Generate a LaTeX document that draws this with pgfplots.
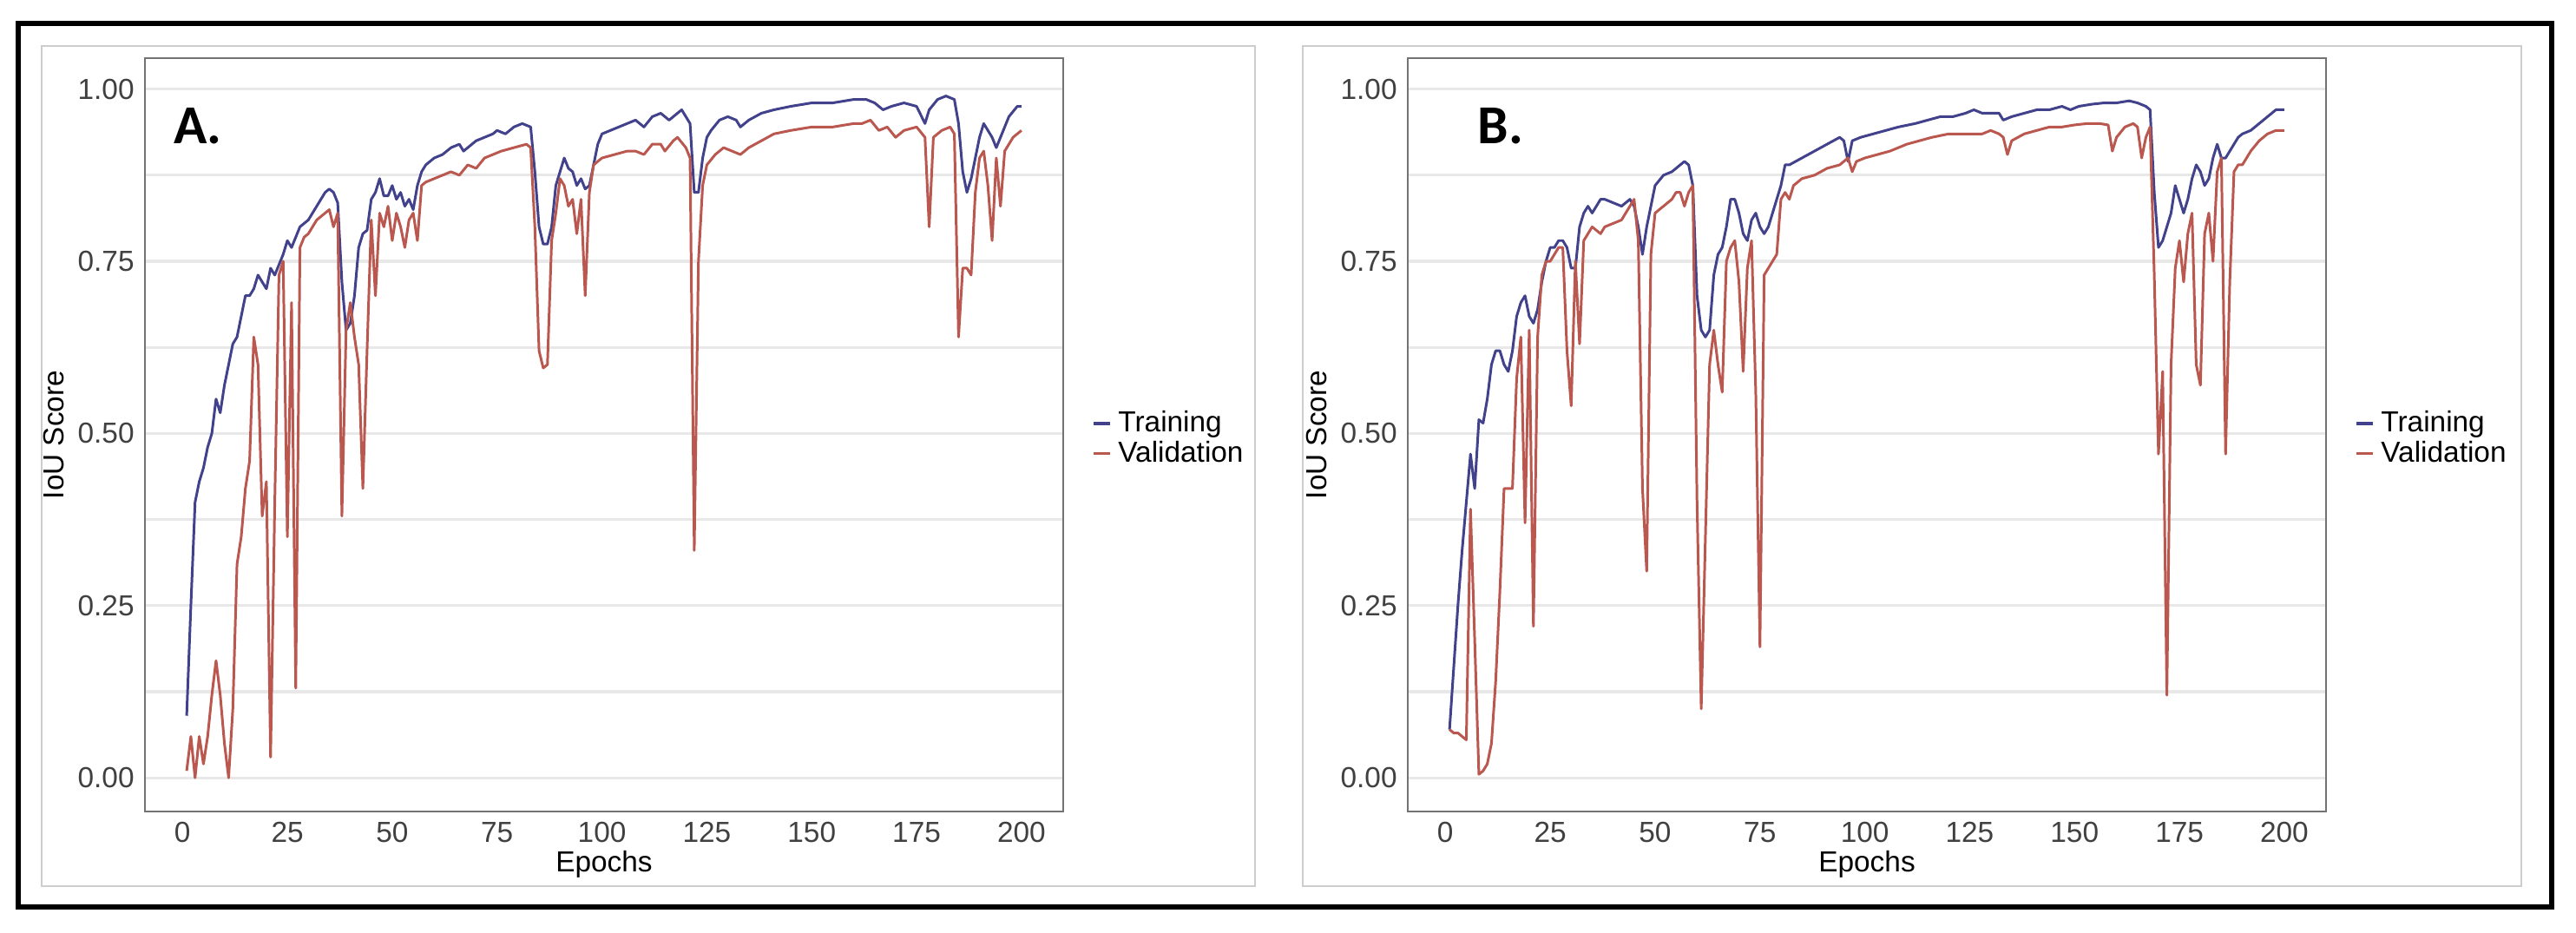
\documentclass[border=0pt]{standalone}
\usepackage{fontspec}
\setmainfont{Liberation Sans}
\newfontfamily\carlito{Carlito}
\usepackage{pgfplots}
\pgfplotsset{compat=1.18}
\definecolor{trainc}{RGB}{66,66,140}
\definecolor{valc}{RGB}{186,88,80}
\definecolor{gridc}{RGB}{232,232,232}
\definecolor{panelc}{RGB}{115,115,115}
\definecolor{framec}{RGB}{205,205,205}

\pgfplotsset{
  iouplot/.style={
    scale only axis, width=10.58cm, height=8.68cm,
    xmin=-8.95, xmax=209.95, ymin=-0.049, ymax=1.045,
    xtick={0,25,...,200}, ytick={0,0.25,0.5,0.75,1},
    minor ytick={0.125,0.375,0.625,0.875},
    ymajorgrids, yminorgrids,
    major grid style={gridc, line width=0.9pt},
    minor grid style={gridc, line width=0.9pt},
    major tick length=0pt, minor tick length=0pt,
    axis line style={panelc, line width=0.7pt},
    yticklabel style={/pgf/number format/fixed, /pgf/number format/fixed zerofill,
      /pgf/number format/precision=2},
    /pgf/number format/assume math mode=true,
    tick label style={font=\fontsize{9.5}{11}\selectfont, text=black!75},
    xlabel={Epochs}, ylabel={IoU Score},
    label style={font=\fontsize{9.5}{11}\selectfont},
    xlabel shift=-0.15cm, ylabel shift=-0.08cm,
    legend style={at={(1.031,0.495)}, anchor=west, draw=none, fill=none,
      font=\fontsize{9.5}{11}\selectfont, row sep=0pt, inner sep=0pt,
      nodes={text height=0.76em, text depth=0.22em, inner ysep=0pt},
      cells={anchor=west}},
    legend image code/.code={\draw[##1, line width=1.1pt] (0cm,0cm) -- (0.19cm,0cm);},
    every axis plot/.append style={line width=0.85pt, line join=round},
  }
}

\begin{document}
\begin{tikzpicture}
\useasboundingbox (0,0) rectangle (29.68cm,10.74cm);
\fill[white] (0,0) rectangle (29.68cm,10.74cm);
% outer frames
\draw[framec, line width=0.6pt] (0.48cm,0.53cm) rectangle (14.46cm,10.21cm);
\draw[framec, line width=0.6pt] (15.01cm,0.53cm) rectangle (29.05cm,10.21cm);
\draw[black, line width=1.7pt] (0.21cm,0.29cm) rectangle (29.40cm,10.47cm);

% panel A
\begin{axis}[iouplot, at={(1.67cm,1.39cm)}, anchor=south west]
\addplot[trainc] coordinates {
(1,0.09) (2,0.25) (3,0.40) (4,0.43) (5,0.45) (6,0.48) (7,0.50) (8,0.55) (9,0.53) (10,0.57)
(11,0.60) (12,0.63) (13,0.64) (14,0.67) (15,0.70) (16,0.70) (17,0.71) (18,0.73) (19,0.72) (20,0.71)
(21,0.74) (22,0.73) (23,0.745) (24,0.76) (25,0.78) (26,0.77) (27,0.785) (28,0.80) (29,0.805) (30,0.81)
(31,0.82) (32,0.83) (33,0.84) (34,0.85) (35,0.855) (36,0.85) (37,0.835) (38,0.72) (39,0.65) (40,0.66)
(41,0.70) (42,0.77) (43,0.79) (44,0.795) (45,0.84) (46,0.85) (47,0.87) (48,0.845) (49,0.845) (50,0.86)
(51,0.84) (52,0.85) (53,0.83) (54,0.84) (55,0.825) (56,0.86) (57,0.88) (58,0.89) (59,0.895) (60,0.90)
(62,0.905) (64,0.915) (66,0.92) (67,0.91) (68,0.915) (70,0.925) (72,0.93) (74,0.935) (75,0.94) (77,0.935)
(79,0.945) (81,0.95) (83,0.945) (84,0.88) (85,0.80) (86,0.775) (87,0.775) (88,0.80) (89,0.86) (90,0.88)
(91,0.90) (92,0.885) (93,0.88) (94,0.86) (95,0.87) (96,0.855) (97,0.86) (98,0.89) (99,0.92) (100,0.935)
(102,0.94) (104,0.945) (106,0.95) (108,0.955) (110,0.945) (112,0.96) (114,0.965) (116,0.955) (118,0.965) (119,0.97)
(120,0.96) (121,0.95) (122,0.85) (123,0.85) (124,0.90) (125,0.93) (126,0.94) (128,0.955) (130,0.96) (132,0.955)
(133,0.945) (135,0.955) (138,0.965) (141,0.97) (145,0.975) (150,0.98) (155,0.98) (160,0.985) (163,0.985) (165,0.98)
(167,0.97) (169,0.975) (172,0.98) (175,0.975) (177,0.95) (178,0.97) (180,0.985) (182,0.99) (184,0.985) (185,0.95)
(186,0.88) (187,0.85) (188,0.87) (190,0.93) (191,0.95) (192,0.94) (193,0.93) (194,0.915) (195,0.93) (197,0.96)
(199,0.975) (200,0.975)
};
\addlegendentry{Training}
\addplot[valc] coordinates {
(1,0.01) (2,0.06) (3,0.00) (4,0.06) (5,0.02) (6,0.06) (7,0.12) (8,0.17) (9,0.12) (10,0.05)
(11,0.00) (12,0.10) (13,0.31) (14,0.35) (15,0.42) (16,0.46) (17,0.64) (18,0.60) (19,0.38) (20,0.43)
(21,0.03) (22,0.40) (23,0.73) (24,0.75) (25,0.35) (26,0.69) (27,0.13) (28,0.77) (29,0.785) (30,0.79)
(31,0.80) (32,0.81) (33,0.815) (34,0.82) (35,0.825) (36,0.80) (37,0.82) (38,0.38) (39,0.65) (40,0.69)
(41,0.64) (42,0.60) (43,0.42) (44,0.62) (45,0.81) (46,0.70) (47,0.82) (48,0.80) (49,0.83) (50,0.78)
(51,0.82) (52,0.80) (53,0.77) (54,0.81) (55,0.82) (56,0.78) (57,0.86) (58,0.865) (60,0.87) (62,0.875)
(64,0.88) (66,0.875) (68,0.89) (70,0.885) (72,0.90) (74,0.905) (76,0.91) (79,0.915) (82,0.92) (83,0.915)
(84,0.80) (85,0.62) (86,0.595) (87,0.60) (88,0.78) (89,0.82) (90,0.87) (91,0.86) (92,0.83) (93,0.84)
(94,0.79) (95,0.84) (96,0.70) (97,0.85) (98,0.89) (100,0.90) (103,0.905) (106,0.91) (108,0.91) (110,0.905)
(112,0.92) (114,0.92) (115,0.91) (117,0.925) (118,0.93) (120,0.915) (121,0.90) (122,0.33) (123,0.75) (124,0.86)
(125,0.89) (127,0.905) (129,0.915) (131,0.91) (133,0.905) (135,0.915) (138,0.925) (141,0.935) (145,0.94) (150,0.945)
(155,0.945) (160,0.95) (162,0.95) (164,0.955) (166,0.94) (168,0.945) (170,0.93) (172,0.94) (175,0.945) (177,0.93)
(178,0.80) (179,0.93) (181,0.94) (183,0.945) (184,0.935) (185,0.64) (186,0.74) (187,0.74) (188,0.73) (189,0.85)
(190,0.90) (191,0.91) (192,0.86) (193,0.78) (194,0.90) (195,0.83) (196,0.91) (198,0.93) (200,0.94)
};
\addlegendentry{Validation}
\end{axis}
\node[font=\carlito\bfseries\fontsize{18}{20}\selectfont] at (2.28cm,9.29cm) {A.};

% panel B
\begin{axis}[iouplot, at={(16.22cm,1.39cm)}, anchor=south west]
\addplot[trainc] coordinates {
(1,0.07) (2,0.16) (3,0.25) (4,0.33) (5,0.40) (6,0.47) (7,0.42) (8,0.52) (9,0.515) (10,0.55)
(11,0.60) (12,0.62) (13,0.62) (14,0.60) (15,0.59) (16,0.62) (17,0.67) (18,0.69) (19,0.70) (20,0.67)
(21,0.66) (22,0.68) (23,0.72) (24,0.75) (25,0.77) (26,0.77) (27,0.78) (28,0.78) (29,0.77) (30,0.74)
(31,0.74) (32,0.80) (33,0.82) (34,0.83) (35,0.82) (36,0.83) (37,0.84) (38,0.84) (40,0.835) (42,0.83)
(44,0.84) (45,0.83) (46,0.80) (47,0.76) (48,0.80) (49,0.83) (50,0.86) (52,0.875) (54,0.88) (56,0.89)
(57,0.895) (58,0.89) (59,0.86) (60,0.70) (61,0.65) (62,0.64) (63,0.65) (64,0.73) (65,0.76) (66,0.77)
(67,0.80) (68,0.84) (69,0.84) (70,0.82) (71,0.79) (72,0.78) (73,0.81) (74,0.82) (75,0.80) (76,0.79)
(77,0.80) (78,0.82) (80,0.86) (81,0.89) (82,0.89) (85,0.90) (88,0.91) (91,0.92) (94,0.93) (95,0.925)
(96,0.895) (97,0.925) (99,0.93) (102,0.935) (105,0.94) (108,0.945) (112,0.95) (115,0.955) (118,0.96) (121,0.96)
(124,0.965) (126,0.97) (128,0.965) (130,0.965) (132,0.965) (133,0.955) (135,0.96) (138,0.965) (141,0.97) (144,0.97)
(147,0.975) (149,0.97) (151,0.975) (154,0.978) (157,0.98) (160,0.98) (163,0.983) (165,0.98) (167,0.975) (168,0.97)
(169,0.85) (170,0.77) (171,0.78) (173,0.82) (174,0.86) (175,0.84) (176,0.82) (177,0.84) (178,0.87) (179,0.89)
(180,0.88) (181,0.86) (182,0.87) (183,0.90) (184,0.92) (185,0.90) (186,0.90) (187,0.91) (188,0.92) (189,0.93)
(190,0.935) (192,0.94) (194,0.95) (196,0.96) (198,0.97) (200,0.97)
};
\addlegendentry{Training}
\addplot[valc] coordinates {
(1,0.07) (2,0.065) (3,0.065) (4,0.06) (5,0.055) (6,0.39) (7,0.20) (8,0.005) (9,0.01) (10,0.02)
(11,0.05) (12,0.14) (13,0.27) (14,0.42) (15,0.42) (16,0.42) (17,0.58) (18,0.64) (19,0.37) (20,0.65)
(21,0.22) (22,0.64) (23,0.73) (24,0.75) (25,0.75) (26,0.76) (27,0.77) (28,0.77) (29,0.62) (30,0.54)
(31,0.75) (32,0.63) (33,0.78) (34,0.79) (35,0.80) (36,0.795) (37,0.79) (38,0.80) (40,0.805) (42,0.81)
(44,0.83) (45,0.84) (46,0.78) (47,0.42) (48,0.30) (49,0.76) (50,0.82) (52,0.83) (54,0.84) (55,0.85)
(56,0.85) (57,0.83) (58,0.85) (59,0.86) (60,0.40) (61,0.10) (62,0.35) (63,0.60) (64,0.65) (65,0.60)
(66,0.56) (67,0.75) (68,0.77) (69,0.78) (70,0.72) (71,0.59) (72,0.74) (73,0.78) (74,0.56) (75,0.19)
(76,0.73) (77,0.74) (78,0.75) (79,0.76) (80,0.84) (81,0.85) (82,0.84) (83,0.86) (85,0.87) (88,0.875)
(91,0.885) (94,0.89) (96,0.90) (97,0.88) (98,0.895) (100,0.90) (103,0.905) (106,0.91) (110,0.92) (113,0.925)
(116,0.93) (120,0.935) (124,0.935) (126,0.935) (128,0.935) (130,0.94) (132,0.935) (133,0.93) (134,0.905) (135,0.925)
(138,0.935) (141,0.94) (144,0.945) (147,0.945) (150,0.948) (153,0.95) (156,0.95) (158,0.948) (159,0.91) (160,0.93)
(162,0.945) (164,0.95) (165,0.945) (166,0.90) (167,0.93) (168,0.945) (169,0.73) (170,0.47) (171,0.59) (172,0.12)
(173,0.60) (174,0.74) (175,0.78) (176,0.72) (177,0.79) (178,0.82) (179,0.60) (180,0.57) (181,0.79) (182,0.82)
(183,0.75) (184,0.88) (185,0.90) (186,0.47) (187,0.72) (188,0.88) (189,0.89) (190,0.89) (192,0.91) (194,0.925)
(196,0.935) (198,0.94) (200,0.94)
};
\addlegendentry{Validation}
\end{axis}
\node[font=\carlito\bfseries\fontsize{18}{20}\selectfont] at (17.29cm,9.29cm) {B.};
\end{tikzpicture}
\end{document}
